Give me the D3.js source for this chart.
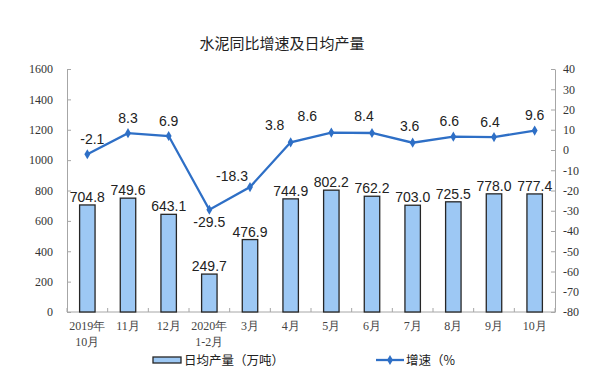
<!DOCTYPE html>
<html><head><meta charset="utf-8">
<script src="https://cdn.jsdelivr.net/npm/d3@7/dist/d3.min.js"></script>
<style>body{margin:0;background:#fff}svg{display:block}</style>
</head><body><svg id="c" width="600" height="388"></svg>
<script>
const cats = ["2019年\n10月","11月","12月","2020年\n1-2月","3月","4月","5月","6月","7月","8月","9月","10月"];
const output = [704.8,749.6,643.1,249.7,476.9,744.9,802.2,762.2,703.0,725.5,778.0,777.4];
const growth = [-2.1,8.3,6.9,-29.5,-18.3,3.8,8.6,8.4,3.6,6.6,6.4,9.6];
const leftTicks = [0,200,400,600,800,1000,1200,1400,1600];
const rightTicks = [-80,-70,-60,-50,-40,-30,-20,-10,0,10,20,30,40];
const title = "水泥同比增速及日均产量";
const legendBar = "日均产量（万吨）";
const legendLine = "增速（%";
</script>
<script>
const svg = d3.select("#c");
const L=67,R=555,T=69,B=312;
const x = d3.scaleBand().domain(cats).range([L,R]).paddingInner(0.62).paddingOuter(0.31);
const yL = d3.scaleLinear().domain([0,1600]).range([B,T]);
const yR = d3.scaleLinear().domain([-80,40]).range([B,T]);
const serif = "'Liberation Serif','Times New Roman',serif";
const sans = "'Liberation Sans',Arial,sans-serif";
const cjk = "'Noto Sans CJK SC',sans-serif";
const axisCol = "#a6a6a6";

svg.append("text").attr("x",282).attr("y",49).attr("text-anchor","middle")
  .attr("font-family",cjk).attr("font-size",15).attr("fill","#222").text(title);

const fmt = d=>String(d);
const ga = svg.append("g").attr("transform",`translate(${L},0)`)
  .call(d3.axisLeft(yL).tickValues(leftTicks).tickFormat(fmt).tickSizeInner(-4).tickSizeOuter(0).tickPadding(14));
const gb = svg.append("g").attr("transform",`translate(${R},0)`)
  .call(d3.axisRight(yR).tickValues(rightTicks).tickFormat(fmt).tickSizeInner(-4).tickSizeOuter(0).tickPadding(8));
[ga,gb].forEach(g=>{
  g.selectAll("path,line").attr("stroke",axisCol);
  g.selectAll("text").attr("font-family",serif).attr("font-size",12).attr("fill","#333");
});
ga.selectAll("text").attr("text-anchor","end");

svg.append("line").attr("x1",L).attr("x2",R).attr("y1",B).attr("y2",B).attr("stroke",axisCol);
const step = x.step();
const bounds = cats.map(c=>x(c)-step*x.paddingInner()/2).concat([R]);
svg.selectAll(".xt").data(bounds).join("line").attr("x1",d=>d).attr("x2",d=>d)
  .attr("y1",B).attr("y2",B-4).attr("stroke",axisCol);
const xl = svg.selectAll(".xl").data(cats).join("text")
  .attr("text-anchor","middle").attr("font-family",serif).attr("font-size",12).attr("fill","#444");
xl.each(function(d){
  const lines=d.split("\n");
  const t=d3.select(this);
  lines.forEach((s,i)=>t.append("tspan").attr("x",x(d)+x.bandwidth()/2).attr("y",330+i*16).text(s));
});

svg.selectAll(".bar").data(output).join("rect")
  .attr("x",(d,i)=>x(cats[i])).attr("width",x.bandwidth())
  .attr("y",d=>yL(d)).attr("height",d=>B-yL(d))
  .attr("fill","#9dc8f4").attr("stroke","#262626").attr("stroke-width",1.3);
svg.selectAll(".bl").data(output).join("text")
  .attr("x",(d,i)=>x(cats[i])+x.bandwidth()/2).attr("y",d=>yL(d)-3)
  .attr("text-anchor","middle").attr("font-family",sans).attr("font-size",14).attr("fill","#222")
  .text(d=>d.toFixed(1));

const cx = i=>x(cats[i])+x.bandwidth()/2;
const line = d3.line().x((d,i)=>cx(i)).y(d=>yR(d));
const lineCol="#2e6fc6";
svg.append("path").datum(growth).attr("d",line).attr("fill","none").attr("stroke",lineCol).attr("stroke-width",2.3);
const diamond = d3.symbol().type(d3.symbolDiamond).size(30);
svg.selectAll(".pt").data(growth).join("path").attr("d",diamond)
  .attr("transform",(d,i)=>`translate(${cx(i)},${yR(d)})`).attr("fill",lineCol);
const labOff = [[5,-10],[0,-10],[0,-10],[0,17],[-18,-6],[-16,-12],[-24,-12],[-8,-12],[-3,-12],[-4,-11],[-4,-10],[0,-11]];
svg.selectAll(".ll").data(growth).join("text")
  .attr("x",(d,i)=>cx(i)+labOff[i][0]).attr("y",(d,i)=>yR(d)+labOff[i][1])
  .attr("text-anchor","middle").attr("font-family",sans).attr("font-size",14).attr("fill","#222")
  .text(d=>d.toFixed(1));

svg.append("rect").attr("x",153).attr("y",357).attr("width",28).attr("height",6)
  .attr("fill","#9dc8f4").attr("stroke","#262626").attr("stroke-width",1.3);
svg.append("text").attr("x",184).attr("y",365).attr("font-family",cjk).attr("font-size",12.5).attr("fill","#222").text(legendBar);
svg.append("line").attr("x1",376).attr("x2",404).attr("y1",360).attr("y2",360).attr("stroke",lineCol).attr("stroke-width",2.3);
svg.append("path").attr("d",diamond).attr("transform","translate(390,360)").attr("fill",lineCol);
svg.append("text").attr("x",406).attr("y",365).attr("font-family",cjk).attr("font-size",12.5).attr("fill","#222").text(legendLine);
</script></body></html>
